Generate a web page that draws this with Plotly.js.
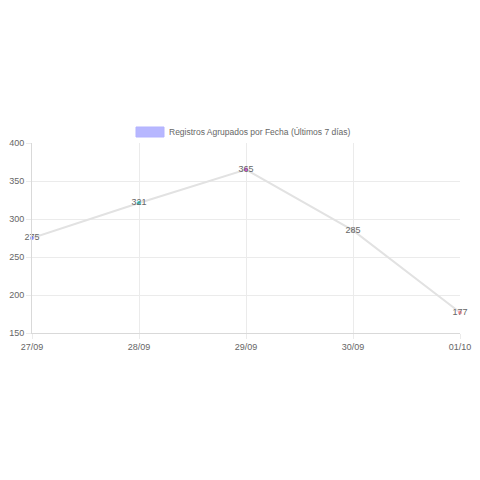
<!DOCTYPE html>
<html>
<head>
<meta charset="utf-8">
<script src="https://cdn.plot.ly/plotly-3.0.1.min.js"></script>
<style>html,body{margin:0;padding:0;background:#fff;}#chart{width:480px;height:480px;}</style>
</head>
<body>
<div id="chart"></div>
<script>
const categories = ["27/09", "28/09", "29/09", "30/09", "01/10"];
const values = [275, 321, 365, 285, 177];
const seriesName = "Registros Agrupados por Fecha (Últimos 7 días)";
const pointColors = ["#9f9fff", "#3ccfcf", "#d957d9", "#cfcfcf", "#ff9fa8"];
const yTicks = [150, 200, 250, 300, 350, 400];

const trace = {
  x: categories,
  y: values,
  type: "scatter",
  mode: "lines+markers+text",
  text: values.map(String),
  textposition: "middle center",
  textfont: {family: "Liberation Sans, Arial, sans-serif", size: 9, color: "#666"},
  line: {color: "#e2e2e2", width: 2},
  marker: {color: pointColors, size: 4},
  name: seriesName,
  showlegend: false,
  cliponaxis: false,
  hoverinfo: "none"
};

const layout = {
  width: 480, height: 480,
  margin: {l: 32, r: 20, t: 143, b: 147},
  paper_bgcolor: "#fff",
  plot_bgcolor: "#fff",
  font: {family: "Liberation Sans, Arial, sans-serif", size: 9, color: "#666"},
  xaxis: {
    type: "category",
    range: [0, categories.length - 1],
    showgrid: true, gridcolor: "#ebebeb", gridwidth: 1,
    zeroline: false,
    showline: true, linecolor: "#d9d9d9",
    ticks: "outside", ticklen: 5, tickcolor: "#ebebeb",
    tickfont: {size: 9, color: "#666"}
  },
  yaxis: {
    range: [150, 400],
    tickvals: yTicks,
    showgrid: true, gridcolor: "#ebebeb", gridwidth: 1,
    zeroline: false,
    showline: true, linecolor: "#d9d9d9",
    ticks: "outside", ticklen: 5, tickcolor: "#ebebeb",
    tickfont: {size: 9, color: "#666"}
  },
  shapes: [{
    type: "rect", xref: "paper", yref: "paper",
    x0: (136 - 32) / 428, x1: (164 - 32) / 428,
    y0: (480 - 147 - 137) / 190 , y1: (480 - 147 - 127) / 190,
    fillcolor: "rgba(153,153,255,0.7)",
    line: {color: "#b3b3ff", width: 1}
  }],
  annotations: [{
    text: seriesName,
    xref: "paper", yref: "paper",
    x: (167 - 32) / 428, y: (480 - 147 - 132) / 190,
    xanchor: "left", yanchor: "middle",
    showarrow: false,
    font: {size: 8.5, color: "#666"}
  }]
};

Plotly.newPlot("chart", [trace], layout, {displayModeBar: false, staticPlot: true});
</script>
</body>
</html>
